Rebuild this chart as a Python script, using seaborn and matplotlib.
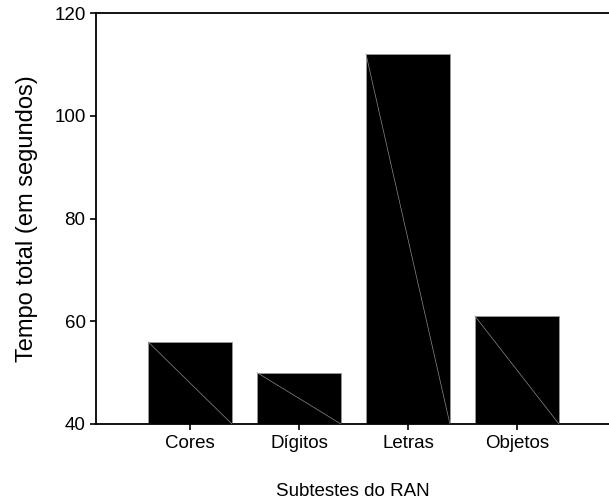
import matplotlib
matplotlib.use("Agg")
import matplotlib.pyplot as plt
import seaborn as sns
import pandas as pd

categories = ["Cores", "Dígitos", "Letras", "Objetos"]
values = [56, 50, 112, 61]
y_ticks = [40, 60, 80, 100, 120]

sns.set_theme(style="white")
plt.rcParams['font.family'] = ['Liberation Sans', 'DejaVu Sans']

df = pd.DataFrame({"cat": categories, "val": values})

fig = plt.figure(figsize=(6.09, 5.03), dpi=100)
ax = fig.add_axes([96/609, 1 - 424/503, 1 - 96/609 + 0.001, (424 - 13)/503])

sns.barplot(data=df, x="cat", y="val", color="black", width=0.77,
            edgecolor="#9a9a9a", linewidth=0.6, saturation=1, ax=ax)

ax.set_ylim(40, 120)
ax.set_xlim(-0.862, 3.85)
ax.set_yticks(y_ticks)
ax.set_yticklabels([str(t) for t in y_ticks])

ybot = ax.get_ylim()[0]
for p in ax.patches:
    x0 = p.get_x()
    w, h = p.get_width(), p.get_height()
    ax.plot([x0, x0 + w], [p.get_y() + h, ybot], color="#8a8a8a", lw=0.5, zorder=5)

for s in ["left", "bottom", "top"]:
    ax.spines[s].set_visible(True)
    ax.spines[s].set_color("black")
    ax.spines[s].set_linewidth(1.3)
ax.spines["right"].set_visible(False)

ax.tick_params(axis="both", which="both", direction="out", length=4.5, width=1.2,
               color="black", labelsize=13.5, labelcolor="black", pad=3)
ax.tick_params(axis="x", bottom=True, pad=3.5)
ax.tick_params(axis="y", left=True)

ax.set_xlabel("Subtestes do RAN", fontsize=13.5, labelpad=22, color="black")
ax.set_ylabel("Tempo total (em segundos)", fontsize=17, labelpad=12, color="black")

fig.savefig("out.png", dpi=100)
